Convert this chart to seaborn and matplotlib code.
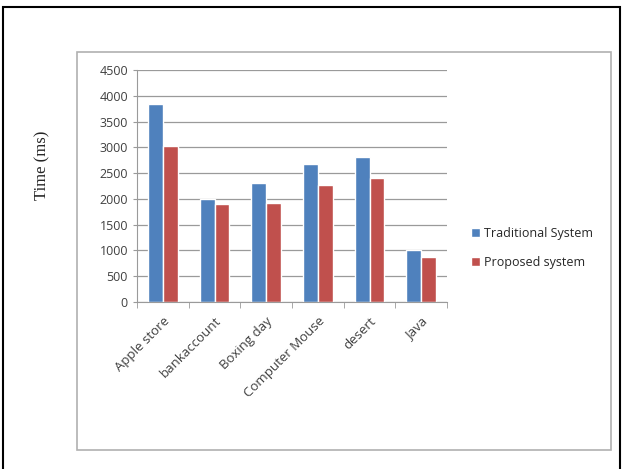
import matplotlib
matplotlib.use("Agg")
import matplotlib.pyplot as plt
from matplotlib.patches import Rectangle
from matplotlib.ticker import FixedLocator
import seaborn as sns
import pandas as pd

# data
categories = ["Apple store", "bankaccount", "Boxing day", "Computer Mouse", "desert", "Java"]
traditional = [3840, 2000, 2300, 2680, 2810, 1000]
proposed = [3030, 1900, 1920, 2270, 2400, 870]
series = ["Traditional System", "Proposed system"]

df = pd.DataFrame({
    "category": categories * 2,
    "time": traditional + proposed,
    "system": [series[0]] * len(categories) + [series[1]] * len(categories),
})

sns.set_style("white")
plt.rcParams["font.family"] = ["Open Sans", "DejaVu Sans"]

fig = plt.figure(figsize=(6.23, 4.69), dpi=100)

# outer black frame and inner grey chart frame
fig.patches.append(Rectangle((3 / 623, -0.02), 617 / 623, 1 - 7 / 469 + 0.02,
                             transform=fig.transFigure, fill=False,
                             edgecolor="black", linewidth=1.5))
fig.patches.append(Rectangle((77 / 623, 1 - 450 / 469), 534 / 623, 398 / 469,
                             transform=fig.transFigure, fill=False,
                             edgecolor="#b0b0b0", linewidth=1.2))

ax = fig.add_axes([137 / 623, 1 - 302 / 469, 310 / 623, 232 / 469])
sns.barplot(data=df, x="category", y="time", hue="system",
            palette=["#4F81BD", "#C0504D"], width=0.58, saturation=1,
            ax=ax, legend=True)

ax.set_ylim(0, 4500)
ax.set_yticks(range(0, 4501, 500))
ax.set_xlim(-0.5, len(categories) - 0.5)
ax.yaxis.grid(True, color="#9a9a9a", linewidth=0.9)
ax.set_axisbelow(True)
for side in ["top", "right"]:
    ax.spines[side].set_visible(False)
ax.spines["left"].set_color("#9a9a9a")
ax.spines["bottom"].set_color("#9a9a9a")
ax.tick_params(axis="y", labelsize=9, colors="#404040", length=3, left=True, color="#9a9a9a")
ax.tick_params(axis="x", which="major", labelsize=9.5, colors="#404040", length=0, pad=9)
ax.xaxis.set_minor_locator(FixedLocator([i - 0.5 for i in range(len(categories) + 1)]))
ax.tick_params(axis="x", which="minor", bottom=True, length=4, color="#9a9a9a")
plt.setp(ax.get_xticklabels(), rotation=45, ha="right", rotation_mode="anchor")
ax.set_xlabel("")
ax.set_ylabel("")

fig.text(42 / 623, 1 - 165 / 469, "Time (ms)", rotation=90, ha="center", va="center",
         fontsize=12, family=["Liberation Serif", "DejaVu Serif"])

handles, labels = ax.get_legend_handles_labels()
ax.legend(handles, labels, loc="center left", bbox_to_anchor=(460 / 623, 1 - 248 / 469),
          bbox_transform=fig.transFigure, frameon=False, fontsize=9,
          handlelength=0.7, handleheight=0.7, handletextpad=0.3, labelspacing=1.3)

fig.savefig("out.png", dpi=100)
